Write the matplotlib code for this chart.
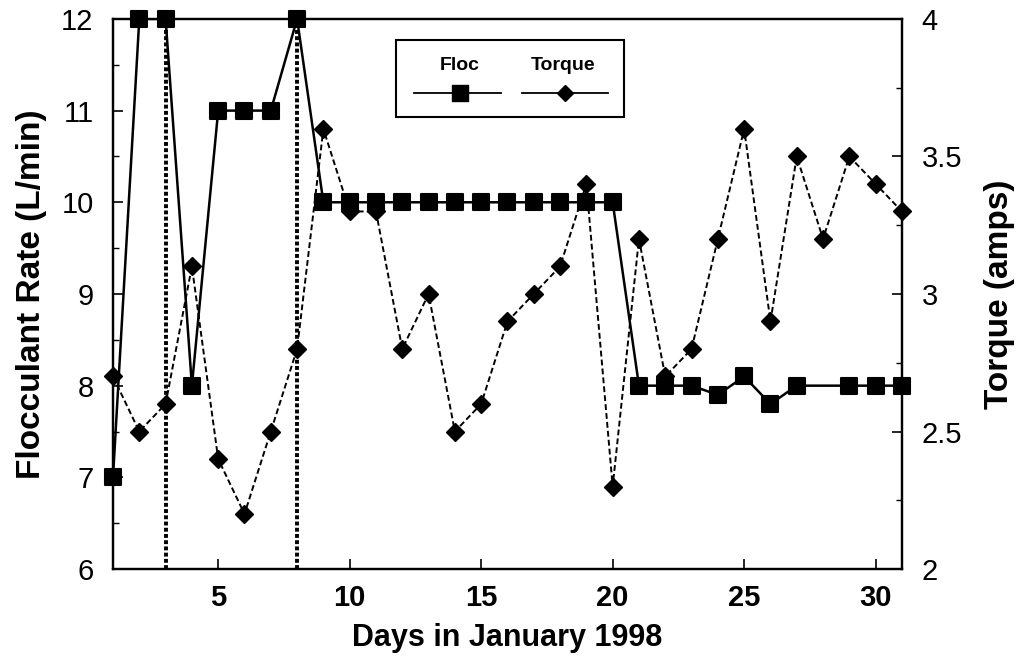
import numpy as np
import matplotlib
matplotlib.use("Agg")
import matplotlib.pyplot as plt
from matplotlib.markers import MarkerStyle
from matplotlib.lines import Line2D
from matplotlib.patches import Rectangle
from matplotlib.ticker import MultipleLocator

plt.rcParams['font.family'] = ['Liberation Sans', 'DejaVu Sans']

days = list(range(1, 32))
floc_rate = [7, 12, 12, 8, 11, 11, 11, 12, 10, 10, 10, 10, 10, 10, 10, 10,
             10, 10, 10, 10, 8, 8, 8, 7.9, 8.1, 7.8, 8, np.nan, 8, 8, 8]
torque = [2.7, 2.5, 2.6, 3.1, 2.4, 2.2, 2.5, 2.8, 3.6, 3.3, 3.3, 2.8, 3.0,
          2.5, 2.6, 2.9, 3.0, 3.1, 3.4, 2.3, 3.2, 2.7, 2.8, 3.2, 3.6, 2.9,
          3.5, 3.2, 3.5, 3.4, 3.3]
event_days = [3, 8]
x_ticks = [5, 10, 15, 20, 25, 30]
left_ticks = [6, 7, 8, 9, 10, 11, 12]
right_ticks = [2, 2.5, 3, 3.5, 4]
right_tick_labels = ['2', '2.5', '3', '3.5', '4']

fig = plt.figure(figsize=(10.18, 6.66), dpi=100)
ax = fig.add_axes([0.111, 0.1456, 0.775, 0.826])
ax2 = ax.twinx()

sq = MarkerStyle('s', joinstyle='round')
dm = MarkerStyle('D', joinstyle='miter')

# flocculant dosing (left axis)
floc = np.array(floc_rate, dtype=float)
mask = ~np.isnan(floc)
ax.plot(np.array(days)[mask], floc[mask], color='black', lw=1.8, zorder=4)
ax.plot(days, floc, linestyle='none', marker=sq, markersize=11,
        markerfacecolor='black', markeredgecolor='black', markeredgewidth=1.5,
        zorder=5, clip_on=False)

# event markers
for d in event_days:
    ax.axvline(d, color='black', lw=2.8, linestyle=(0, (1, 0.6)), zorder=3)

# mixer torque (right axis)
ax2.plot(days, torque, color='black', lw=1.4, linestyle=(0, (3, 1.6)),
         marker=dm, markersize=9, markerfacecolor='black',
         markeredgecolor='black', clip_on=False, zorder=3)

ax.set_xlim(1, 31)
ax.set_ylim(6, 12)
ax2.set_ylim(2, 4)

ax.set_xticks(x_ticks)
ax.set_yticks(left_ticks)
ax.yaxis.set_minor_locator(MultipleLocator(0.5))
ax2.set_yticks(right_ticks)
ax2.set_yticklabels(right_tick_labels)
ax2.yaxis.set_minor_locator(MultipleLocator(0.25))

ax.tick_params(axis='both', which='major', direction='in', length=7, width=1.2,
               labelsize=21, pad=14)
ax.tick_params(axis='y', which='minor', direction='in', length=4, width=1.0)
ax.tick_params(axis='x', which='major', pad=11)
ax2.tick_params(axis='y', which='major', direction='in', length=7, width=1.2,
                labelsize=21, pad=14)
ax2.tick_params(axis='y', which='minor', direction='in', length=4, width=1.0)
for lbl in ax.get_xticklabels():
    lbl.set_fontweight('bold')

for a in (ax, ax2):
    for s in a.spines.values():
        s.set_linewidth(1.6)

ax.set_xlabel('Days in January 1998', fontsize=22, fontweight='bold', labelpad=8)
ax.set_ylabel('Flocculant Rate (L/min)', fontsize=24, fontweight='bold', labelpad=10)
ax2.set_ylabel('Torque (amps)', fontsize=24, fontweight='bold', labelpad=16)

# legend box with series names above the line samples
tr = ax.transAxes
ax.add_patch(Rectangle((0.359, 0.822), 0.289, 0.140, transform=tr,
                       facecolor='white', edgecolor='black', lw=1.5, zorder=8))
ax.text(0.440, 0.915, 'Floc', transform=tr, ha='center', va='center',
        fontsize=14, fontweight='bold', zorder=9)
ax.text(0.571, 0.915, 'Torque', transform=tr, ha='center', va='center',
        fontsize=14, fontweight='bold', zorder=9)
ax.add_line(Line2D([0.381, 0.492], [0.866, 0.866], transform=tr, color='black',
                   lw=1.3, zorder=9))
ax.add_line(Line2D([0.440], [0.866], transform=tr, linestyle='none', marker=sq,
                   markersize=12, color='black', zorder=10))
ax.add_line(Line2D([0.519, 0.627], [0.866, 0.866], transform=tr, color='black',
                   lw=1.3, zorder=9))
ax.add_line(Line2D([0.573], [0.866], transform=tr, linestyle='none', marker=dm,
                   markersize=8, color='black', zorder=10))

ax2.set_zorder(ax.get_zorder() - 1)
ax.patch.set_visible(False)

fig.savefig('out.png', dpi=100)
